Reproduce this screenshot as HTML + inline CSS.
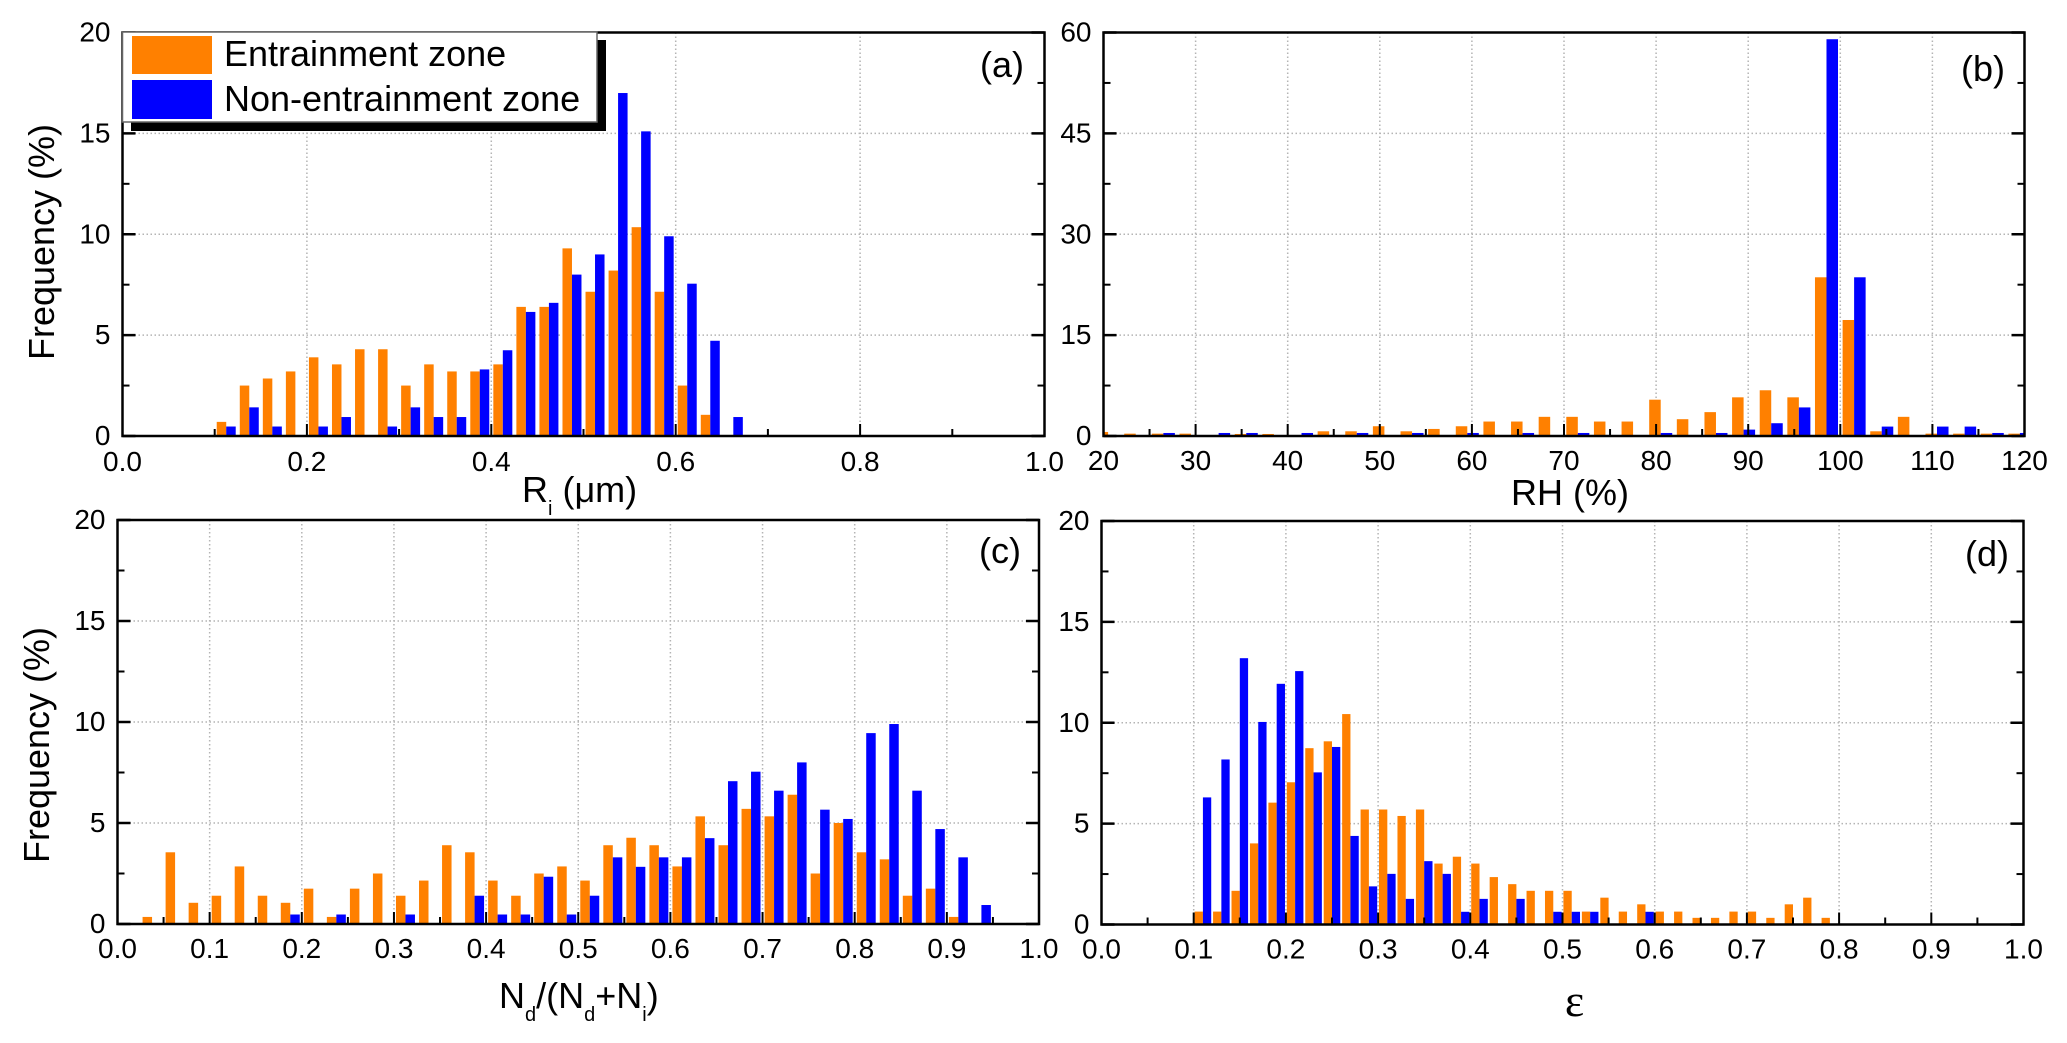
<!DOCTYPE html>
<html lang="en">
<head>
<meta charset="utf-8">
<title>Frequency histograms for entrainment and non-entrainment zones</title>
<style>
  html, body { margin: 0; padding: 0; background: #fff; }
  body { width: 2067px; height: 1043px; overflow: hidden; }
  svg { display: block; font-family: "Liberation Sans", sans-serif; fill: #000; }
</style>
</head>
<body>
<svg id="figure" xmlns="http://www.w3.org/2000/svg" width="2067" height="1043" viewBox="0 0 2067 1043">
  <rect x="0" y="0" width="2067" height="1043" fill="#fff"/>
  <g id="panels"></g>

  <text transform="translate(54,242) rotate(-90)" text-anchor="middle" font-size="36">Frequency (%)</text>
  <text transform="translate(49,745) rotate(-90)" text-anchor="middle" font-size="36">Frequency (%)</text>

  <text x="522" y="502" font-size="36">R<tspan dy="13" font-size="20">i</tspan><tspan dy="-13"> (μm)</tspan></text>
  <text x="1511" y="505" font-size="36">RH (%)</text>
  <text x="499" y="1008" font-size="36">N<tspan dy="13" font-size="20">d</tspan><tspan dy="-13">/(N</tspan><tspan dy="13" font-size="20">d</tspan><tspan dy="-13">+N</tspan><tspan dy="13" font-size="20">i</tspan><tspan dy="-13">)</tspan></text>
  <text x="1574.5" y="1016" text-anchor="middle" font-size="46" style="font-family:'Liberation Serif',serif">ε</text>

  <text x="980" y="77" font-size="36">(a)</text>
  <text x="1961" y="81" font-size="36">(b)</text>
  <text x="979" y="563" font-size="36">(c)</text>
  <text x="1965" y="566" font-size="36">(d)</text>

  <g>
    <rect x="131" y="40" width="475" height="91" fill="#000"/>
    <rect x="122.5" y="32" width="474.5" height="90" fill="#fff" stroke="#666" stroke-width="1.5"/>
    <rect x="132" y="36" width="80" height="38" fill="#FF8000"/>
    <text x="224" y="66" font-size="36">Entrainment zone</text>
    <rect x="132" y="80" width="80" height="39" fill="#0000FF"/>
    <text x="224" y="111" font-size="36">Non-entrainment zone</text>
  </g>
</svg>

<script>
// Panel (a) data
const binsA = [0.1125,0.1375,0.1625,0.1875,0.2125,0.2375,0.2625,0.2875,0.3125,0.3375,0.3625,0.3875,0.4125,0.4375,0.4625,0.4875,0.5125,0.5375,0.5625,0.5875,0.6125,0.6375,0.6625];
const entrainA = [0.7,2.5,2.85,3.2,3.9,3.55,4.3,4.3,2.5,3.55,3.2,3.2,3.55,6.4,6.4,9.3,7.15,8.2,10.35,7.15,2.5,1.05,0];
const nonEntrainA = [0.47,1.42,0.47,0,0.47,0.94,0,0.47,1.42,0.94,0.94,3.3,4.25,6.15,6.6,8.0,9.0,17.0,15.1,9.9,7.55,4.72,0.94];
const xMajorA = [0,0.2,0.4,0.6,0.8,1];
const xMinorA = [0.1,0.3,0.5,0.7,0.9];
const xLabelsA = ["0.0","0.2","0.4","0.6","0.8","1.0"];

// Panel (b) data
const binsB = [20.5,23.5,26.5,29.5,32.5,35.5,38.5,41.5,44.5,47.5,50.5,53.5,56.5,59.5,62.5,65.5,68.5,71.5,74.5,77.5,80.5,83.5,86.5,89.5,92.5,95.5,98.5,101.5,104.5,107.5,110.5,113.5,116.5,119.5];
const entrainB = [0.6,0.35,0.35,0.35,0,0.3,0.3,0,0.7,0.7,1.45,0.7,1.05,1.45,2.15,2.15,2.85,2.85,2.15,2.15,5.4,2.5,3.55,5.75,6.8,5.75,23.6,17.25,0.7,2.85,0.35,0.35,0.35,0.35];
const nonEntrainB = [0,0,0.45,0,0.45,0.45,0,0.45,0,0.45,0,0.45,0,0.45,0,0.45,0,0.45,0,0,0.45,0,0.45,0.95,1.9,4.25,59,23.6,1.4,0,1.4,1.4,0.45,0.45];
const xMajorB = [20,30,40,50,60,70,80,90,100,110,120];
const xMinorB = [25,35,45,55,65,75,85,95,105,115];
const xLabelsB = ["20","30","40","50","60","70","80","90","100","110","120"];

// Panel (c) data
const binsC = [0.0375,0.0625,0.0875,0.1125,0.1375,0.1625,0.1875,0.2125,0.2375,0.2625,0.2875,0.3125,0.3375,0.3625,0.3875,0.4125,0.4375,0.4625,0.4875,0.5125,0.5375,0.5625,0.5875,0.6125,0.6375,0.6625,0.6875,0.7125,0.7375,0.7625,0.7875,0.8125,0.8375,0.8625,0.8875,0.9125,0.9375];
const entrainC = [0.35,3.55,1.05,1.4,2.85,1.4,1.05,1.75,0.35,1.75,2.5,1.4,2.15,3.9,3.55,2.15,1.4,2.5,2.85,2.15,3.9,4.27,3.9,2.85,5.33,3.9,5.7,5.33,6.4,2.5,5.0,3.55,3.2,1.4,1.75,0.35,0];
const nonEntrainC = [0,0,0,0,0,0,0.47,0,0.47,0,0,0.47,0,0,1.4,0.47,0.47,2.34,0.47,1.4,3.3,2.83,3.3,3.3,4.25,7.07,7.54,6.6,8.0,5.66,5.2,9.45,9.9,6.6,4.7,3.3,0.94];
const xMajorC = [0,0.1,0.2,0.3,0.4,0.5,0.6,0.7,0.8,0.9,1];
const xMinorC = [0.05,0.15,0.25,0.35,0.45,0.55,0.65,0.75,0.85,0.95];
const xLabelsC = ["0.0","0.1","0.2","0.3","0.4","0.5","0.6","0.7","0.8","0.9","1.0"];

// Panel (d) data
const binsD = [0.11,0.13,0.15,0.17,0.19,0.21,0.23,0.25,0.27,0.29,0.31,0.33,0.35,0.37,0.39,0.41,0.43,0.45,0.47,0.49,0.51,0.53,0.55,0.57,0.59,0.61,0.63,0.65,0.67,0.69,0.71,0.73,0.75,0.77,0.79];
const entrainD = [0.64,0.64,1.67,4.02,6.04,7.05,8.74,9.08,10.43,5.7,5.7,5.38,5.7,3.02,3.36,3.02,2.35,2.0,1.67,1.67,1.67,0.64,1.33,0.64,1.0,0.64,0.64,0.33,0.33,0.64,0.64,0.33,1.0,1.33,0.33];
const nonEntrainD = [6.3,8.18,13.2,10.04,11.93,12.56,7.54,8.8,4.39,1.89,2.51,1.27,3.14,2.51,0.63,1.27,0,1.27,0,0.63,0.63,0.63,0,0,0.63,0,0,0,0,0,0,0,0,0,0];
const xMajorD = [0,0.1,0.2,0.3,0.4,0.5,0.6,0.7,0.8,0.9,1];
const xMinorD = [0.05,0.15,0.25,0.35,0.45,0.55,0.65,0.75,0.85,0.95];
const xLabelsD = ["0.0","0.1","0.2","0.3","0.4","0.5","0.6","0.7","0.8","0.9","1.0"];

// Shared and per-panel y axes
const yMajorFreq = [0,5,10,15,20];
const yMinorFreq = [2.5,7.5,12.5,17.5];
const yLabelsFreq = ["0","5","10","15","20"];
const yMajorB = [0,15,30,45,60];
const yMinorB = [7.5,22.5,37.5,52.5];
const yLabelsB = ["0","15","30","45","60"];

const NS = 'http://www.w3.org/2000/svg';
const ORANGE = '#FF8000';
const BLUE = '#0000FF';

function mk(parent, tag, attrs) {
  const el = document.createElementNS(NS, tag);
  for (const k in attrs) el.setAttribute(k, attrs[k]);
  parent.appendChild(el);
  return el;
}

function drawPanel(cfg) {
  const root = document.getElementById('panels');
  const g = mk(root, 'g', {});
  
  

  const sx = v => cfg.left + (v - cfg.xMin) / (cfg.xMax - cfg.xMin) * (cfg.right - cfg.left);
  const sy = v => cfg.bottom - (v - cfg.yMin) / (cfg.yMax - cfg.yMin) * (cfg.bottom - cfg.top);

  const defs = mk(g, 'defs', {});
  const clip = mk(defs, 'clipPath', { id: 'clip-' + cfg.id });
  mk(clip, 'rect', { x: cfg.left, y: cfg.top, width: cfg.right - cfg.left, height: cfg.bottom - cfg.top });

  // grid
  const gridG = mk(g, 'g', { stroke: '#b4b4b4', 'stroke-width': 1.5, 'stroke-dasharray': '1.5 2.5', fill: 'none' });
  
  
  cfg.xMajor.forEach(v => {
    if (v === cfg.xMin || v === cfg.xMax) return;
    const line = mk(gridG, 'line', { x1: sx(v), x2: sx(v), y1: cfg.top, y2: cfg.bottom });
    
    
  });
  cfg.yMajor.forEach(v => {
    if (v === cfg.yMin || v === cfg.yMax) return;
    const line = mk(gridG, 'line', { x1: cfg.left, x2: cfg.right, y1: sy(v), y2: sy(v) });
    
    
  });

  // bars
  const barsG = mk(g, 'g', { 'clip-path': 'url(#clip-' + cfg.id + ')' });
  
  
  cfg.bins.forEach((c, i) => {
    const x0 = sx(c - cfg.barWidth);
    const x1 = sx(c);
    const x2 = sx(c + cfg.barWidth);
    const a = mk(barsG, 'rect', { x: x0, y: sy(cfg.entrain[i]), width: x1 - x0, height: sy(0) - sy(cfg.entrain[i]), fill: ORANGE });
    
    
    const b = mk(barsG, 'rect', { x: x1, y: sy(cfg.nonEntrain[i]), width: x2 - x1, height: sy(0) - sy(cfg.nonEntrain[i]), fill: BLUE });
    
    
  });

  // ticks
  const tickG = mk(g, 'g', { stroke: '#000', fill: 'none' });
  
  
  const xTick = (v, len) => {
    const t = mk(tickG, 'line', { x1: sx(v), x2: sx(v), y1: cfg.bottom, y2: cfg.bottom - len, 'stroke-width': 2 });
    
    
  };
  const yTick = (v, len, w) => {
    const l = mk(tickG, 'line', { x1: cfg.left, x2: cfg.left + len, y1: sy(v), y2: sy(v), 'stroke-width': w });
    
    
    const r = mk(tickG, 'line', { x1: cfg.right, x2: cfg.right - len, y1: sy(v), y2: sy(v), 'stroke-width': w });
    
    
  };
  cfg.xMajor.forEach(v => xTick(v, 12));
  cfg.xMinor.forEach(v => xTick(v, 7));
  cfg.yMajor.forEach(v => yTick(v, 13, 2.5));
  cfg.yMinor.forEach(v => yTick(v, 7, 2));

  // frame
  const frame = mk(g, 'rect', { x: cfg.left, y: cfg.top, width: cfg.right - cfg.left, height: cfg.bottom - cfg.top, fill: 'none', stroke: '#000', 'stroke-width': 2.5 });
  
  

  // tick labels
  cfg.xMajor.forEach((v, i) => {
    const t = mk(g, 'text', { x: sx(v), y: cfg.bottom + cfg.xLabelGap, 'text-anchor': 'middle', 'font-size': 28 });
    
    
    t.textContent = cfg.xLabels[i];
  });
  cfg.yMajor.forEach((v, i) => {
    const t = mk(g, 'text', { x: cfg.left - 12, y: sy(v) + 9, 'text-anchor': 'end', 'font-size': 28 });
    
    
    t.textContent = cfg.yLabels[i];
  });
}

drawPanel({ id: 'a', left: 122.5, right: 1044.5, top: 32.5, bottom: 436, xMin: 0, xMax: 1, yMin: 0, yMax: 20, barWidth: 0.0103,
  bins: binsA, entrain: entrainA, nonEntrain: nonEntrainA, xMajor: xMajorA, xMinor: xMinorA, xLabels: xLabelsA,
  yMajor: yMajorFreq, yMinor: yMinorFreq, yLabels: yLabelsFreq, xLabelGap: 35 });
drawPanel({ id: 'b', left: 1103.5, right: 2024.5, top: 32.5, bottom: 436, xMin: 20, xMax: 120, yMin: 0, yMax: 60, barWidth: 1.25,
  bins: binsB, entrain: entrainB, nonEntrain: nonEntrainB, xMajor: xMajorB, xMinor: xMinorB, xLabels: xLabelsB,
  yMajor: yMajorB, yMinor: yMinorB, yLabels: yLabelsB, xLabelGap: 34 });
drawPanel({ id: 'c', left: 117.5, right: 1039, top: 520, bottom: 924, xMin: 0, xMax: 1, yMin: 0, yMax: 20, barWidth: 0.0103,
  bins: binsC, entrain: entrainC, nonEntrain: nonEntrainC, xMajor: xMajorC, xMinor: xMinorC, xLabels: xLabelsC,
  yMajor: yMajorFreq, yMinor: yMinorFreq, yLabels: yLabelsFreq, xLabelGap: 34 });
drawPanel({ id: 'd', left: 1101.5, right: 2023.5, top: 521, bottom: 924.5, xMin: 0, xMax: 1, yMin: 0, yMax: 20, barWidth: 0.009,
  bins: binsD, entrain: entrainD, nonEntrain: nonEntrainD, xMajor: xMajorD, xMinor: xMinorD, xLabels: xLabelsD,
  yMajor: yMajorFreq, yMinor: yMinorFreq, yLabels: yLabelsFreq, xLabelGap: 34 });
</script>
</body>
</html>
